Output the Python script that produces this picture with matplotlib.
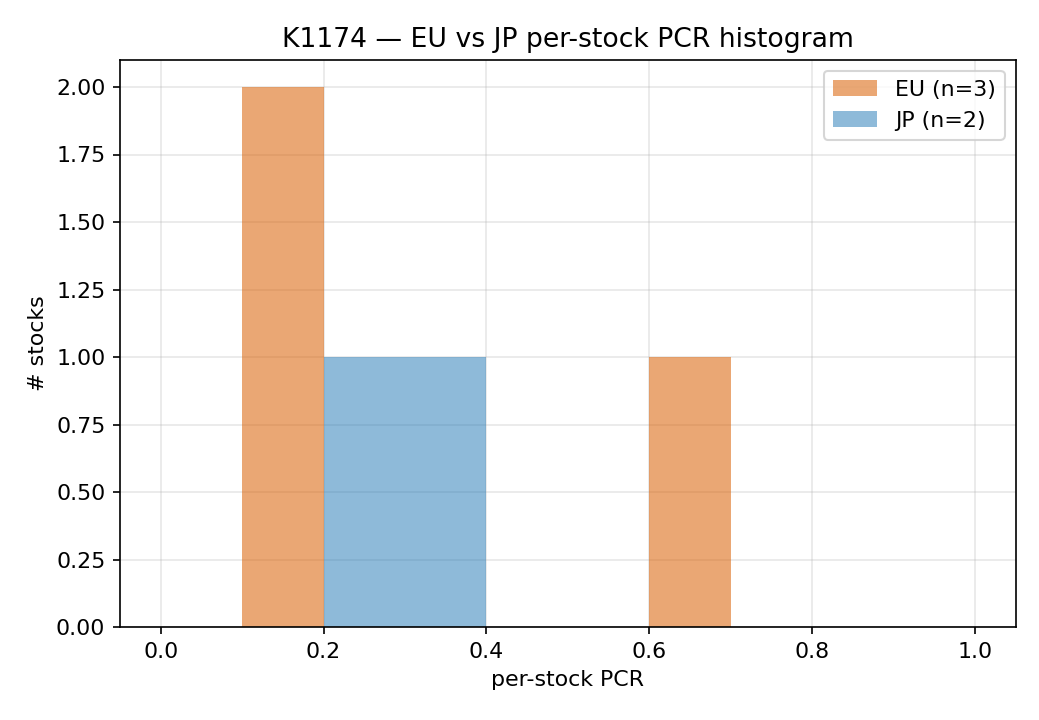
import numpy as np
import matplotlib
matplotlib.use("Agg")
import matplotlib.pyplot as plt

plt.rcParams["font.size"] = 10.63

eu_pcr = [0.12, 0.18, 0.65]
jp_pcr = [0.25, 0.35]
bins = np.linspace(0, 1, 11)

fig, ax = plt.subplots(figsize=(6.93, 4.8), dpi=150)
ax.set_axisbelow(True)
ax.grid(alpha=0.3)

ax.hist(eu_pcr, bins=bins, color="#d95f02", alpha=0.55, label=f"EU (n={len(eu_pcr)})")
ax.hist(jp_pcr, bins=bins, color="#1f77b4", alpha=0.5, label=f"JP (n={len(jp_pcr)})")

ax.set_title("K1174 — EU vs JP per-stock PCR histogram")
ax.set_xlabel("per-stock PCR")
ax.set_ylabel("# stocks")
ax.legend()

fig.subplots_adjust(left=0.1154, right=0.977, top=0.9167, bottom=0.129)
plt.savefig("out.png", dpi=150)
